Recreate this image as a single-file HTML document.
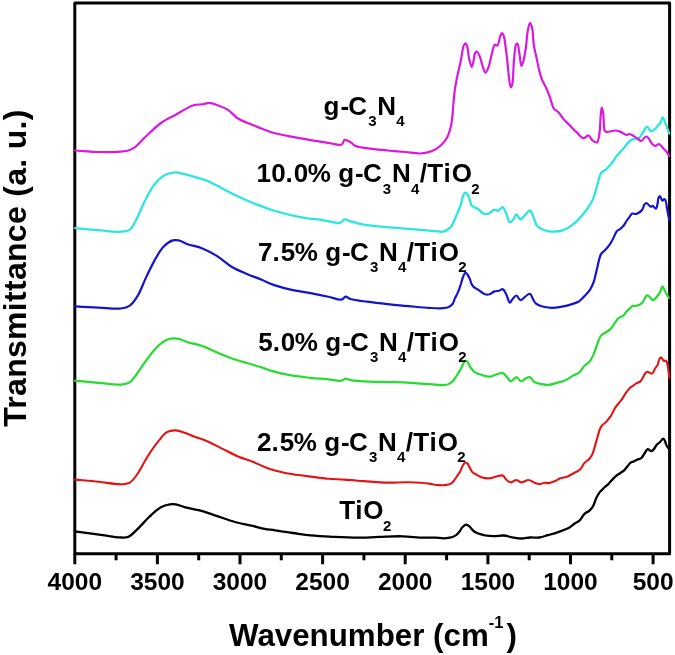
<!DOCTYPE html>
<html><head><meta charset="utf-8"><style>
html,body{margin:0;padding:0;background:#fff;}
body{width:675px;height:655px;overflow:hidden;}
svg{display:block;will-change:transform;}
text{font-family:"Liberation Sans",sans-serif;font-weight:bold;fill:#000;}
.tl{font-size:24.5px;}
.cl{font-size:26px;}
.cl .sub{font-size:15px;}
.al{font-size:31.3px;}
.yl{font-size:32px;letter-spacing:0.3px;}
.al .sup{font-size:16.5px;}
</style></head><body>
<svg width="675" height="655" viewBox="0 0 675 655">
<rect x="0" y="0" width="675" height="655" fill="#fff"/>
<rect x="74.8" y="3.0" width="594.8" height="550.8" fill="none" stroke="#000" stroke-width="3" stroke-linejoin="round"/>
<path d="M75.0,531.5 C79.9,532.1 84.9,532.7 89.8,533.3 C94.7,534.0 99.7,534.7 104.6,535.4 C109.5,536.1 115.1,537.2 119.4,537.4 C122.7,537.5 125.5,538.0 128.3,536.9 C131.5,535.6 134.1,532.3 137.2,529.4 C141.0,525.9 145.0,520.8 149.1,517.0 C152.9,513.4 157.0,509.3 160.9,507.2 C163.9,505.5 167.1,504.7 169.8,504.3 C171.9,504.0 173.6,504.0 175.7,504.3 C178.4,504.7 181.1,506.2 184.6,507.2 C189.5,508.5 196.8,509.5 202.4,511.1 C207.6,512.5 212.0,514.4 217.2,516.1 C222.9,518.0 229.0,520.4 235.0,522.0 C240.9,523.6 247.5,524.6 252.8,525.9 C257.1,526.9 260.8,528.2 264.6,528.9 C268.2,529.6 271.1,529.7 275.0,530.3 C280.1,531.0 286.9,532.1 292.8,533.0 C298.7,533.8 304.2,534.8 310.6,535.4 C317.9,536.1 326.4,536.5 334.3,536.9 C342.2,537.3 350.4,537.7 358.0,537.7 C365.1,537.7 371.6,537.1 378.7,536.9 C386.3,536.7 394.8,536.1 402.4,536.3 C409.5,536.5 417.1,537.5 423.1,537.7 C427.6,537.8 431.3,537.5 435.0,537.6 C438.2,537.7 441.0,538.4 443.9,538.3 C446.7,538.2 449.9,537.8 452.0,537.2 C453.5,536.7 454.5,536.2 455.7,535.4 C457.0,534.5 458.3,533.1 459.4,531.7 C460.5,530.3 461.2,528.4 462.4,527.2 C463.5,526.1 464.9,524.7 466.1,524.6 C467.1,524.5 468.2,525.4 469.1,526.1 C470.2,526.9 471.0,528.4 472.0,529.4 C473.0,530.4 473.8,531.3 475.0,532.0 C476.3,532.8 477.8,533.4 479.4,533.9 C481.1,534.5 482.9,535.0 485.0,535.4 C487.5,535.8 490.3,536.2 493.2,536.2 C496.5,536.3 500.5,535.3 503.8,535.5 C506.8,535.7 509.2,536.8 512.1,537.3 C515.1,537.8 518.5,538.5 521.6,538.5 C524.5,538.5 527.1,537.7 530.0,537.5 C533.1,537.3 536.5,537.9 539.5,537.5 C542.4,537.1 545.0,536.0 547.8,535.2 C550.6,534.4 553.3,533.7 556.1,532.8 C558.9,531.9 561.9,530.9 564.4,529.8 C566.6,528.9 568.5,528.0 570.3,526.9 C572.0,525.8 573.4,524.4 575.0,523.3 C576.6,522.2 578.3,521.7 579.8,520.3 C581.6,518.7 582.8,515.4 584.5,513.8 C585.9,512.4 587.8,512.0 589.2,510.8 C590.6,509.6 591.7,508.4 592.8,506.7 C594.2,504.4 595.1,500.4 596.4,497.8 C597.5,495.6 598.6,493.6 599.9,491.9 C601.0,490.5 602.2,489.6 603.5,488.3 C605.1,486.8 607.0,485.4 608.8,483.6 C610.9,481.5 613.2,478.4 615.3,476.6 C616.9,475.2 618.5,474.3 620.0,473.2 C621.4,472.2 622.9,471.4 624.1,470.3 C625.3,469.2 626.2,467.9 627.3,466.6 C628.4,465.3 629.4,463.5 630.6,462.6 C631.6,461.9 632.8,461.9 633.9,461.4 C635.0,460.9 636.0,460.2 637.1,459.7 C638.4,459.1 640.0,459.0 641.2,458.1 C642.5,457.1 643.3,455.1 644.4,453.6 C645.5,452.1 646.4,449.4 647.7,449.1 C648.8,448.9 650.3,451.3 651.4,451.2 C652.4,451.1 653.4,449.7 654.2,448.7 C655.1,447.6 655.7,445.8 656.7,444.7 C657.6,443.7 658.9,443.2 659.9,442.2 C661.0,441.1 662.3,438.6 663.2,438.6 C663.8,438.6 664.3,439.7 664.8,440.6 C665.5,441.8 665.8,444.1 666.5,445.5 C667.1,446.6 667.8,447.4 668.5,448.3" fill="none" stroke="#000000" stroke-width="2.3" stroke-linejoin="round" stroke-linecap="round"/>
<path d="M75.0,479.6 C82.9,480.3 90.9,480.9 98.7,481.7 C106.2,482.5 115.2,484.5 120.9,484.3 C124.5,484.2 127.2,484.1 129.8,482.6 C132.7,481.0 134.7,477.7 137.2,474.3 C140.6,469.6 144.0,462.1 147.6,456.5 C151.0,451.3 154.5,446.0 158.0,441.7 C161.0,438.1 163.6,434.0 166.9,432.2 C169.6,430.7 172.8,430.3 175.7,430.4 C178.7,430.5 181.7,431.8 184.6,432.8 C187.6,433.8 190.1,435.0 193.5,436.3 C197.8,437.9 203.4,439.6 208.3,441.7 C213.3,443.9 218.2,446.6 223.1,449.1 C228.1,451.6 233.0,454.4 238.0,456.5 C242.9,458.6 248.2,460.0 252.8,461.8 C257.0,463.5 260.8,465.4 264.6,466.9 C268.1,468.3 271.0,469.3 275.0,470.4 C280.1,471.8 286.8,473.3 292.8,474.3 C298.7,475.3 304.7,475.9 310.6,476.6 C316.5,477.3 322.5,478.2 328.3,478.7 C333.8,479.2 338.9,479.2 344.6,479.6 C350.8,480.0 357.1,480.6 363.9,481.1 C371.4,481.6 380.0,482.4 387.6,482.6 C394.7,482.8 401.4,482.1 408.3,482.3 C415.2,482.5 424.3,483.0 429.1,483.6 C431.7,483.9 432.8,484.4 435.0,484.7 C437.9,485.0 442.0,485.4 444.9,485.1 C447.2,484.9 449.4,484.5 451.0,483.6 C452.3,482.8 453.1,481.7 454.1,480.5 C455.2,479.2 456.1,477.5 457.1,476.0 C458.1,474.5 459.3,473.0 460.2,471.4 C461.1,469.7 461.6,467.5 462.5,466.0 C463.3,464.7 464.2,462.9 465.2,462.6 C465.9,462.4 466.7,462.8 467.4,463.4 C468.3,464.2 468.9,466.2 469.7,467.6 C470.6,469.1 471.4,471.0 472.4,472.1 C473.1,472.9 473.7,473.1 474.7,473.7 C476.3,474.7 478.9,476.4 481.3,477.2 C483.8,478.0 487.1,478.5 489.6,478.3 C491.7,478.2 493.4,477.2 495.5,476.7 C497.8,476.2 500.9,474.8 502.7,475.5 C504.3,476.1 504.8,478.4 506.2,479.5 C507.6,480.7 509.2,482.3 510.9,482.4 C512.6,482.5 514.7,479.9 516.4,480.0 C518.0,480.0 519.3,482.3 521.1,482.4 C523.3,482.6 526.4,479.8 528.7,480.0 C530.7,480.1 532.4,482.0 534.3,482.7 C536.2,483.4 538.3,484.2 540.1,484.1 C541.7,484.0 543.0,482.9 544.5,482.7 C545.9,482.5 547.3,483.3 548.8,483.1 C550.6,482.9 552.7,482.0 554.6,481.2 C556.6,480.4 558.3,479.1 560.4,478.3 C562.7,477.5 565.3,477.3 567.7,476.4 C570.2,475.4 572.7,473.7 574.9,472.5 C576.8,471.5 578.5,471.0 580.0,469.6 C581.7,468.0 582.7,464.9 584.3,463.1 C585.8,461.4 588.0,460.3 589.4,458.8 C590.6,457.4 591.4,456.4 592.3,454.4 C593.9,451.0 595.2,444.6 596.7,439.9 C598.1,435.4 599.0,430.2 601.0,426.9 C602.6,424.3 605.1,423.1 606.8,421.1 C608.4,419.2 609.8,417.4 611.2,415.3 C612.7,412.9 613.8,409.9 615.5,407.3 C617.3,404.7 619.8,402.2 621.6,399.7 C623.2,397.5 624.3,395.2 625.7,393.2 C627.0,391.3 628.4,389.2 629.8,387.9 C630.9,386.9 631.9,386.5 633.0,385.8 C634.1,385.0 635.1,384.1 636.3,383.4 C637.6,382.6 639.3,382.4 640.4,381.4 C641.5,380.5 642.0,379.0 642.8,377.7 C643.6,376.3 644.4,374.2 645.3,373.2 C645.9,372.5 646.6,371.9 647.3,371.8 C648.0,371.7 648.9,372.5 649.7,372.8 C650.5,373.1 651.4,373.9 652.2,373.6 C653.3,373.2 654.1,370.2 655.0,368.7 C655.8,367.4 656.8,366.5 657.5,365.1 C658.2,363.6 658.5,361.2 659.1,359.8 C659.6,358.8 660.1,357.4 660.7,357.3 C661.2,357.2 661.9,358.4 662.4,359.0 C663.0,359.6 663.4,360.8 664.0,361.0 C664.6,361.2 665.5,360.3 666.0,360.6 C666.7,361.0 666.9,362.5 667.3,363.8 C667.8,365.7 668.2,368.8 668.5,371.2 C668.8,373.4 669.0,375.5 669.3,377.7" fill="none" stroke="#e41414" stroke-width="2.1" stroke-linejoin="round" stroke-linecap="round"/>
<path d="M75.0,380.7 C82.9,381.4 90.9,382.1 98.7,382.8 C106.2,383.4 115.2,385.1 120.9,384.6 C124.6,384.3 127.2,383.9 129.8,382.2 C132.7,380.3 134.6,376.7 137.2,373.3 C140.5,369.0 144.0,363.1 147.6,358.5 C151.0,354.1 154.3,349.4 158.0,346.1 C161.2,343.2 164.8,340.5 168.3,339.3 C171.2,338.3 174.2,338.3 177.2,338.7 C180.6,339.1 183.8,341.1 187.6,342.2 C192.1,343.5 197.5,344.4 202.4,346.1 C207.4,347.8 212.2,350.5 217.2,352.6 C222.1,354.7 227.0,356.8 232.0,358.5 C236.9,360.2 241.9,361.5 246.9,363.0 C251.8,364.5 256.9,365.9 261.7,367.4 C266.3,368.9 270.2,370.6 275.0,371.9 C280.5,373.4 286.8,374.7 292.8,375.7 C298.7,376.7 304.7,377.2 310.6,377.8 C316.5,378.4 322.8,378.8 328.3,379.3 C333.1,379.8 338.7,381.3 341.7,380.7 C343.4,380.4 344.1,378.9 345.5,378.7 C347.0,378.5 348.3,379.7 350.6,380.1 C354.9,380.9 363.1,381.3 369.8,381.6 C377.3,382.0 385.9,381.9 393.5,382.2 C400.7,382.4 407.4,382.7 414.3,383.1 C421.2,383.5 429.5,384.2 435.0,384.6 C438.7,384.8 441.6,385.4 444.2,385.1 C446.2,384.9 448.0,384.4 449.5,383.6 C451.0,382.8 452.2,381.7 453.3,380.5 C454.5,379.2 455.4,377.5 456.4,376.0 C457.4,374.5 458.5,373.0 459.4,371.4 C460.3,369.9 460.9,368.3 461.7,366.8 C462.5,365.3 463.1,363.3 464.0,362.2 C464.6,361.5 465.3,360.7 465.9,360.7 C466.5,360.7 467.2,361.5 467.8,362.2 C468.7,363.3 469.3,365.5 470.1,366.8 C470.8,367.9 471.6,368.9 472.4,369.8 C473.1,370.6 473.6,371.4 474.7,372.1 C476.3,373.1 478.9,374.1 481.3,374.8 C483.9,375.6 487.1,376.8 489.6,376.7 C491.7,376.6 493.4,375.4 495.5,374.8 C497.8,374.2 500.7,372.5 502.7,373.1 C504.6,373.6 506.0,376.1 507.4,377.6 C508.7,378.9 509.5,381.3 510.9,381.4 C512.5,381.5 514.7,377.1 516.4,377.2 C518.1,377.3 519.5,381.3 521.1,381.4 C522.6,381.5 524.3,379.0 525.9,378.3 C527.2,377.7 528.6,376.8 529.9,377.2 C531.5,377.7 532.5,380.9 534.3,382.0 C536.3,383.2 539.2,383.6 541.6,384.1 C544.0,384.6 546.4,385.1 548.8,384.9 C551.2,384.7 553.6,383.8 556.1,383.1 C558.9,382.3 562.0,381.7 564.8,380.5 C567.8,379.2 570.9,376.8 573.5,375.4 C575.6,374.3 577.6,373.9 579.3,372.5 C581.2,370.9 582.5,367.9 584.3,366.0 C585.9,364.3 588.0,363.4 589.4,361.7 C590.9,360.0 591.9,358.2 593.0,355.9 C594.4,353.0 595.4,349.1 596.7,345.7 C598.0,342.3 599.2,337.8 601.0,335.6 C602.3,334.1 603.9,333.7 605.4,332.7 C607.0,331.6 609.0,330.5 610.4,329.1 C611.9,327.6 612.8,325.8 614.1,324.0 C615.5,322.1 617.2,319.2 618.4,318.2 C619.0,317.7 619.4,317.6 620.0,317.3 C620.9,316.8 622.3,316.5 623.3,315.7 C624.5,314.7 625.4,312.8 626.5,311.6 C627.6,310.4 628.7,309.4 629.8,308.4 C630.8,307.5 631.5,306.3 632.6,305.9 C633.6,305.5 634.9,306.0 635.9,305.9 C636.9,305.8 637.7,305.6 638.7,305.1 C640.0,304.4 641.7,303.1 642.8,301.9 C643.8,300.8 644.2,299.3 644.9,298.2 C645.5,297.2 646.1,295.6 646.9,295.4 C647.6,295.2 648.5,296.0 649.3,296.6 C650.5,297.4 651.8,300.2 653.0,300.2 C654.0,300.2 655.0,298.8 655.9,297.8 C657.0,296.7 658.3,295.0 659.1,293.7 C659.8,292.6 660.2,291.6 660.7,290.5 C661.3,289.2 661.8,286.4 662.4,286.4 C663.0,286.4 663.8,288.5 664.4,289.7 C665.1,291.0 665.7,292.7 666.5,294.1 C667.2,295.4 668.1,296.6 668.9,297.8" fill="none" stroke="#26dc30" stroke-width="2.2" stroke-linejoin="round" stroke-linecap="round"/>
<path d="M75.0,306.4 C82.9,306.8 90.9,307.2 98.7,307.6 C106.2,307.9 115.2,309.3 120.9,308.5 C124.6,308.0 127.2,307.4 129.8,305.6 C132.7,303.6 134.9,300.4 137.2,296.7 C140.4,291.7 143.1,283.7 146.1,277.4 C149.0,271.3 151.9,265.0 155.0,259.6 C157.8,254.7 160.6,249.6 163.9,246.3 C166.6,243.6 170.0,241.2 172.8,240.4 C174.9,239.8 176.6,240.0 178.7,240.4 C181.4,241.0 184.2,243.0 187.6,244.2 C191.9,245.7 197.6,246.5 202.4,248.4 C207.4,250.4 212.4,253.1 217.2,256.1 C222.3,259.3 226.9,264.0 232.0,267.0 C236.8,269.9 241.9,271.8 246.9,273.9 C251.8,276.0 256.9,277.8 261.7,279.8 C266.3,281.7 270.2,283.8 275.0,285.4 C280.4,287.3 286.8,288.8 292.8,290.1 C298.7,291.4 304.7,292.0 310.6,293.1 C316.5,294.2 322.8,295.5 328.3,296.7 C333.1,297.7 338.7,300.3 341.7,299.6 C343.5,299.2 344.1,296.9 345.5,296.7 C347.0,296.5 348.4,298.3 350.6,299.0 C354.4,300.2 361.1,300.9 366.9,301.7 C373.4,302.6 380.7,303.4 387.6,304.1 C394.5,304.8 401.4,305.5 408.3,306.1 C415.2,306.7 422.8,307.6 429.1,307.9 C434.3,308.2 439.8,308.6 443.4,308.2 C445.6,308.0 447.1,307.7 448.7,307.0 C450.2,306.3 451.6,305.3 452.6,304.0 C453.7,302.6 454.0,300.3 454.8,298.6 C455.5,297.0 456.4,295.7 457.1,294.1 C457.9,292.4 458.7,290.6 459.4,288.7 C460.1,286.7 460.7,284.6 461.3,282.6 C461.9,280.6 462.4,278.3 463.2,276.5 C463.9,275.0 464.7,272.8 465.5,272.7 C466.2,272.6 467.1,274.0 467.8,275.0 C468.7,276.2 469.5,278.1 470.1,279.6 C470.7,281.1 470.9,282.8 471.6,284.1 C472.2,285.3 472.9,286.3 473.9,287.2 C475.0,288.1 476.3,288.6 477.8,289.5 C479.8,290.8 482.7,293.6 484.9,294.3 C486.5,294.8 488.1,294.7 489.6,294.3 C491.3,293.8 492.7,292.0 494.4,291.4 C495.9,290.9 497.7,291.1 499.1,290.7 C500.4,290.3 501.6,288.8 502.7,289.1 C504.1,289.5 505.1,292.3 506.2,294.3 C507.5,296.7 508.5,302.4 509.8,302.6 C510.7,302.7 511.5,300.1 512.6,299.0 C513.7,297.8 515.2,295.4 516.4,295.5 C517.8,295.6 518.9,300.0 520.4,300.2 C521.9,300.4 523.6,297.7 525.2,296.6 C526.7,295.6 528.6,293.4 529.9,293.8 C531.4,294.2 532.4,298.5 533.5,300.2 C534.3,301.5 534.7,302.5 535.8,303.4 C537.2,304.6 539.3,305.6 541.6,306.3 C544.4,307.2 548.3,307.7 551.7,307.8 C555.1,307.9 558.5,307.2 561.9,306.6 C565.3,306.0 568.9,305.1 572.0,304.1 C574.7,303.2 577.1,302.6 579.3,301.2 C581.5,299.7 583.3,297.4 585.1,295.4 C586.9,293.5 588.7,291.8 590.1,289.6 C591.6,287.3 592.8,284.6 593.8,281.7 C595.0,278.3 595.6,274.3 596.7,270.1 C598.0,265.2 599.0,257.6 601.0,254.1 C602.2,252.0 604.0,251.3 605.4,249.8 C606.9,248.2 608.4,246.6 609.7,244.7 C611.1,242.7 612.1,240.4 613.3,238.2 C614.5,235.9 615.6,232.5 617.0,231.0 C617.9,230.0 619.0,229.9 620.0,229.1 C621.3,228.0 623.0,226.4 624.1,225.0 C625.1,223.7 625.7,222.2 626.5,221.0 C627.3,219.8 628.1,218.9 629.0,217.7 C630.0,216.4 631.0,214.1 632.2,213.6 C633.2,213.2 634.4,214.1 635.5,214.0 C636.6,213.9 637.7,213.4 638.7,212.8 C639.9,212.1 641.1,211.2 642.0,210.0 C643.1,208.6 643.6,205.9 644.4,204.7 C644.9,203.9 645.5,203.1 646.1,203.0 C646.7,202.9 647.4,203.8 648.1,204.3 C648.9,204.9 649.8,206.5 650.6,206.7 C651.3,206.8 651.9,205.8 652.6,205.9 C653.6,206.1 655.1,208.9 655.9,208.7 C656.8,208.5 657.1,205.6 657.5,203.8 C658.0,201.8 658.0,198.6 658.7,197.3 C659.0,196.7 659.5,196.0 659.9,196.1 C660.6,196.2 661.5,200.4 662.4,200.6 C663.0,200.7 663.8,198.9 664.4,199.0 C664.9,199.1 665.3,199.8 665.6,200.6 C666.3,202.1 666.5,205.5 666.9,207.9 C667.3,210.1 667.7,212.3 668.1,214.4 C668.5,216.4 668.9,218.2 669.3,220.1" fill="none" stroke="#1414d0" stroke-width="2.2" stroke-linejoin="round" stroke-linecap="round"/>
<path d="M75.0,228.1 C82.9,228.8 90.9,229.6 98.7,230.2 C106.2,230.8 115.2,232.2 120.9,231.7 C124.6,231.4 127.4,231.3 129.8,229.6 C132.4,227.8 133.6,224.4 135.7,220.7 C138.9,215.0 142.6,205.1 146.1,198.5 C149.0,193.0 151.5,187.8 155.0,183.7 C158.1,180.1 161.7,176.7 165.4,174.8 C168.7,173.2 172.4,172.4 175.7,172.4 C178.8,172.4 181.6,173.5 184.6,174.2 C187.6,174.9 190.3,175.7 193.5,176.6 C197.2,177.6 201.3,178.5 205.4,180.1 C210.1,181.9 215.3,184.8 220.2,187.3 C225.2,189.8 229.8,192.5 235.0,195.0 C240.6,197.7 247.4,200.8 252.8,203.0 C257.1,204.8 260.8,206.0 264.6,207.4 C268.2,208.7 271.2,209.9 275.0,211.0 C279.5,212.3 284.9,213.7 289.8,214.8 C294.7,215.9 299.4,216.9 304.6,217.8 C310.2,218.7 316.5,219.3 322.4,220.1 C328.3,220.9 336.4,223.8 340.2,222.8 C342.3,222.2 342.9,219.6 344.6,219.3 C346.4,219.0 348.2,220.6 350.6,221.3 C354.1,222.3 359.1,223.7 363.9,224.6 C369.4,225.6 375.8,226.1 381.7,226.7 C387.6,227.3 393.5,227.6 399.4,228.1 C405.3,228.6 411.3,229.1 417.2,229.6 C423.1,230.1 430.2,230.8 435.0,231.1 C438.3,231.3 441.1,232.1 443.4,231.6 C445.2,231.2 446.6,230.2 448.0,229.3 C449.3,228.4 450.4,227.5 451.4,226.2 C452.5,224.7 453.3,222.7 454.1,220.9 C454.9,219.1 455.6,217.3 456.4,215.5 C457.2,213.7 458.0,212.0 458.7,210.2 C459.5,208.2 460.3,206.3 461.0,204.1 C461.7,201.7 462.1,198.6 462.9,196.5 C463.5,194.9 464.3,192.8 465.2,192.6 C465.9,192.5 466.8,193.4 467.4,194.2 C468.3,195.3 468.8,197.1 469.4,198.7 C470.1,200.6 470.4,203.3 471.3,204.8 C472.0,205.9 472.9,206.4 473.9,207.1 C475.0,207.8 476.4,208.0 477.8,208.9 C479.6,210.0 481.7,212.9 483.7,213.6 C485.3,214.1 486.8,214.1 488.4,213.6 C490.4,213.0 492.6,209.8 494.4,209.6 C495.7,209.4 496.7,211.0 497.9,210.8 C499.4,210.6 501.4,206.9 502.7,207.2 C504.2,207.5 505.1,211.3 506.2,213.6 C507.5,216.3 508.3,222.0 509.8,222.4 C510.8,222.7 512.3,220.7 513.3,219.5 C514.5,218.1 515.2,214.4 516.4,214.3 C517.6,214.2 518.9,219.4 520.4,219.5 C521.9,219.6 523.6,216.3 525.2,214.8 C526.8,213.3 528.6,210.3 529.9,210.5 C531.4,210.7 532.3,214.8 533.5,217.2 C534.8,219.9 535.3,223.7 537.2,225.9 C539.0,228.0 541.9,229.2 544.5,230.2 C547.2,231.2 550.2,231.7 553.2,231.7 C556.4,231.7 560.2,231.3 563.3,230.2 C566.4,229.1 569.3,227.1 572.0,225.1 C574.6,223.2 577.2,220.8 579.3,218.6 C581.1,216.7 582.6,214.8 584.0,213.0 C585.3,211.4 586.3,210.3 587.5,208.5 C589.2,206.0 591.4,202.8 592.9,199.4 C594.5,195.7 595.4,191.4 596.7,187.2 C598.2,182.6 599.1,175.6 601.3,172.7 C602.6,171.0 604.3,171.0 605.9,169.6 C607.9,167.8 610.2,165.1 612.0,162.7 C613.7,160.5 615.1,157.7 616.6,155.9 C617.8,154.5 618.8,153.7 620.0,152.4 C621.5,150.8 623.2,148.7 624.9,146.7 C626.7,144.6 628.7,141.5 630.6,140.2 C631.9,139.4 633.0,139.3 634.3,138.9 C635.8,138.5 637.8,138.6 639.2,137.7 C640.7,136.7 641.6,134.5 642.8,132.8 C644.1,130.9 645.5,126.8 646.9,126.7 C648.2,126.6 649.5,130.9 651.0,131.2 C652.3,131.4 653.8,130.2 655.0,129.2 C656.3,128.2 657.3,126.2 658.3,125.1 C659.0,124.3 659.7,123.9 660.3,123.0 C661.2,121.6 661.9,117.3 662.8,117.3 C663.7,117.3 664.6,121.5 665.6,123.9 C666.8,126.8 668.1,130.4 669.3,133.6" fill="none" stroke="#2ce6e0" stroke-width="2.3" stroke-linejoin="round" stroke-linecap="round"/>
<path d="M75.0,150.5 C82.9,151.0 91.5,151.8 98.7,152.0 C104.6,152.2 109.9,152.3 115.0,152.0 C119.7,151.7 124.8,151.5 128.3,150.5 C130.8,149.8 132.1,149.1 134.3,147.6 C137.7,145.2 141.8,140.2 146.0,136.3 C150.6,132.0 155.8,126.7 161.0,123.0 C165.8,119.6 170.5,117.5 175.7,114.7 C181.3,111.6 188.5,106.7 193.5,105.2 C196.9,104.2 199.6,104.7 202.4,104.3 C205.0,103.9 207.4,102.7 209.8,102.8 C212.3,102.9 214.5,104.2 217.2,105.2 C220.4,106.4 224.3,107.5 227.6,109.6 C231.3,111.9 234.0,116.0 238.0,118.5 C242.3,121.2 248.1,123.0 252.8,125.0 C256.9,126.8 260.8,128.4 264.6,129.8 C268.2,131.1 271.0,132.2 275.0,133.3 C280.1,134.7 286.9,135.8 292.8,136.9 C298.7,138.0 304.7,139.1 310.6,140.1 C316.5,141.1 322.8,142.0 328.3,142.8 C333.1,143.5 339.0,145.9 341.7,144.6 C343.4,143.8 343.2,140.4 344.6,139.9 C346.1,139.4 348.8,141.2 350.6,142.2 C352.3,143.2 352.9,144.8 355.0,145.8 C358.4,147.4 364.6,147.9 369.8,148.7 C375.4,149.5 381.7,149.9 387.6,150.5 C393.5,151.0 399.7,151.5 405.4,152.0 C410.6,152.5 415.6,153.7 420.2,153.5 C424.4,153.3 428.5,152.6 432.0,151.1 C435.3,149.7 438.5,147.5 441.0,145.2 C443.4,143.0 445.3,140.8 446.9,137.8 C448.9,134.1 450.2,129.4 451.3,124.4 C452.6,118.3 452.8,109.9 453.4,103.7 C453.9,98.7 454.1,94.6 454.8,90.0 C455.5,85.3 456.4,80.7 457.4,75.8 C458.5,70.6 459.9,65.0 461.0,59.8 C462.0,54.9 462.5,48.2 463.7,45.6 C464.2,44.5 464.8,43.4 465.4,43.4 C466.0,43.4 466.7,45.0 467.2,46.4 C468.1,49.0 468.2,54.4 469.0,58.0 C469.7,61.2 470.9,66.9 471.7,66.9 C472.3,66.9 472.9,63.6 473.4,61.6 C474.1,59.0 474.1,54.1 475.2,52.7 C475.7,52.0 476.4,51.6 477.0,51.8 C477.9,52.1 478.9,54.4 479.7,56.2 C480.8,58.6 481.3,62.3 482.3,65.1 C483.2,67.7 484.4,72.5 485.5,72.6 C486.5,72.6 487.7,69.3 488.6,66.9 C490.0,63.3 490.9,56.7 492.1,52.7 C493.0,49.6 493.5,45.3 494.8,44.7 C495.5,44.3 496.7,46.0 497.4,45.6 C498.7,44.9 499.2,39.0 500.1,36.7 C500.7,35.2 501.3,33.1 501.9,33.1 C502.6,33.1 503.5,35.2 504.0,36.7 C504.8,39.0 504.9,42.3 505.4,45.6 C506.0,49.8 506.6,54.8 507.2,59.8 C507.8,65.4 508.3,72.6 509.0,77.6 C509.5,81.3 510.0,87.2 510.8,87.3 C511.2,87.4 511.8,86.1 512.2,84.7 C513.4,80.7 513.2,67.1 514.0,59.8 C514.6,54.1 514.9,46.6 516.1,44.7 C516.5,44.1 517.1,43.6 517.5,43.8 C518.4,44.2 518.7,49.4 519.3,52.7 C520.0,56.7 520.5,65.9 521.4,66.0 C521.9,66.1 522.6,63.5 523.2,61.6 C524.2,58.2 525.2,52.2 525.9,47.3 C526.7,42.1 526.8,35.8 527.7,31.3 C528.3,28.0 529.2,22.9 530.0,22.8 C530.7,22.8 531.5,25.6 532.1,27.8 C533.1,31.9 533.0,40.2 533.9,45.6 C534.6,50.1 535.7,53.9 536.6,58.0 C537.5,62.1 538.2,66.6 539.2,70.4 C540.0,73.6 540.7,76.4 541.9,79.3 C543.1,82.3 545.0,85.2 546.3,88.2 C547.6,91.1 548.7,93.9 549.9,97.1 C551.2,100.6 551.9,105.7 553.7,108.3 C555.0,110.2 557.0,110.6 558.5,112.2 C560.2,114.0 561.5,116.7 563.3,118.9 C565.3,121.2 567.8,123.4 570.0,125.6 C572.3,127.9 574.5,130.3 576.8,132.4 C579.0,134.5 581.4,138.0 583.5,138.2 C585.2,138.4 587.0,135.0 588.4,135.3 C589.9,135.6 590.7,138.9 592.2,140.1 C593.6,141.2 595.8,142.9 597.0,142.4 C598.5,141.7 598.7,137.7 599.3,134.3 C600.3,128.9 600.3,117.8 600.9,113.1 C601.2,110.7 601.4,107.7 601.8,107.7 C602.2,107.7 602.8,110.8 603.2,113.1 C603.9,117.2 603.3,127.9 604.7,130.5 C605.2,131.5 605.7,131.8 606.7,132.0 C608.5,132.4 612.9,130.4 615.3,130.5 C617.1,130.6 618.3,131.0 620.0,131.6 C622.0,132.3 624.7,134.8 626.5,134.9 C627.6,135.0 628.3,133.9 629.4,134.0 C630.8,134.1 632.4,135.2 633.9,136.1 C635.7,137.2 638.3,139.4 639.6,140.2 C640.3,140.6 640.6,141.1 641.2,141.0 C642.4,140.8 644.8,136.6 646.1,136.5 C646.9,136.4 647.4,137.0 648.1,137.7 C649.3,138.8 650.5,142.0 651.8,143.4 C652.8,144.5 653.8,145.7 655.0,145.9 C656.2,146.1 657.8,143.9 659.1,144.2 C660.6,144.5 661.9,147.0 663.2,148.3 C664.4,149.5 665.5,150.4 666.5,151.6 C667.5,152.9 668.2,154.4 669.0,155.8" fill="none" stroke="#dc18e0" stroke-width="2.2" stroke-linejoin="round" stroke-linecap="round"/>

<g stroke="#000" stroke-width="3"><line x1="74.8" y1="553.8" x2="74.8" y2="564.3"/><line x1="116.1" y1="553.8" x2="116.1" y2="560.3"/><line x1="157.4" y1="553.8" x2="157.4" y2="564.3"/><line x1="198.7" y1="553.8" x2="198.7" y2="560.3"/><line x1="240.0" y1="553.8" x2="240.0" y2="564.3"/><line x1="281.3" y1="553.8" x2="281.3" y2="560.3"/><line x1="322.6" y1="553.8" x2="322.6" y2="564.3"/><line x1="363.9" y1="553.8" x2="363.9" y2="560.3"/><line x1="405.2" y1="553.8" x2="405.2" y2="564.3"/><line x1="446.6" y1="553.8" x2="446.6" y2="560.3"/><line x1="487.9" y1="553.8" x2="487.9" y2="564.3"/><line x1="529.2" y1="553.8" x2="529.2" y2="560.3"/><line x1="570.5" y1="553.8" x2="570.5" y2="564.3"/><line x1="611.8" y1="553.8" x2="611.8" y2="560.3"/><line x1="653.1" y1="553.8" x2="653.1" y2="564.3"/></g>
<g class="tl"><text x="74.8" y="589.5" text-anchor="middle">4000</text><text x="157.4" y="589.5" text-anchor="middle">3500</text><text x="240.0" y="589.5" text-anchor="middle">3000</text><text x="322.6" y="589.5" text-anchor="middle">2500</text><text x="405.2" y="589.5" text-anchor="middle">2000</text><text x="487.9" y="589.5" text-anchor="middle">1500</text><text x="570.5" y="589.5" text-anchor="middle">1000</text><text x="653.1" y="589.5" text-anchor="middle">500</text></g>
<g class="cl">
<text x="323.5" y="114.6"><tspan dx="0 1.0 -0.8">g-C</tspan><tspan class="sub" dx="1.1" dy="11.5">3</tspan><tspan dx="0.7" dy="-11.5">N</tspan><tspan class="sub" dx="0.3" dy="11.5">4</tspan></text>
<text x="256.6" y="182.4"><tspan dx="0 0.3 -0.3 0.9 -0.4 0 0.1 1.0 -0.8">10.0% g-C</tspan><tspan class="sub" dx="1.1" dy="11.5">3</tspan><tspan dx="0.7" dy="-11.5">N</tspan><tspan class="sub" dx="0.3" dy="11.5">4</tspan><tspan dx="0.4 0.3 0.8 1.0" dy="-11.5">/TiO</tspan><tspan class="sub" dx="-0.7" dy="11.5">2</tspan></text>
<text x="258.1" y="260.8"><tspan dx="0 0 0.9 -0.4 0 0.1 1.0 -0.8">7.5% g-C</tspan><tspan class="sub" dx="1.1" dy="11.5">3</tspan><tspan dx="0.7" dy="-11.5">N</tspan><tspan class="sub" dx="0.3" dy="11.5">4</tspan><tspan dx="0.4 0.3 0.8 1.0" dy="-11.5">/TiO</tspan><tspan class="sub" dx="-0.7" dy="11.5">2</tspan></text>
<text x="258.2" y="350.5"><tspan dx="0 0 0.9 -0.4 0 0.1 1.0 -0.8">5.0% g-C</tspan><tspan class="sub" dx="1.1" dy="11.5">3</tspan><tspan dx="0.7" dy="-11.5">N</tspan><tspan class="sub" dx="0.3" dy="11.5">4</tspan><tspan dx="0.4 0.3 0.8 1.0" dy="-11.5">/TiO</tspan><tspan class="sub" dx="-0.7" dy="11.5">2</tspan></text>
<text x="257.1" y="450.5"><tspan dx="0 0 0.9 -0.4 0 0.1 1.0 -0.8">2.5% g-C</tspan><tspan class="sub" dx="1.1" dy="11.5">3</tspan><tspan dx="0.7" dy="-11.5">N</tspan><tspan class="sub" dx="0.3" dy="11.5">4</tspan><tspan dx="0.4 0.3 0.8 1.0" dy="-11.5">/TiO</tspan><tspan class="sub" dx="-0.7" dy="11.5">2</tspan></text>
<text x="339.2" y="519.3"><tspan dx="0 0.6 0.8">TiO</tspan><tspan class="sub" dx="-0.4" dy="11.5">2</tspan></text>
</g>
<text class="al" x="229" y="646">Wavenumber (cm<tspan class="sup" dy="-18.5">-1</tspan><tspan dx="3" dy="18.5">)</tspan></text>
<text class="yl" transform="translate(25.6,426.8) rotate(-90)" x="0" y="0">Transmittance (a. u.)</text>
</svg>
</body></html>
